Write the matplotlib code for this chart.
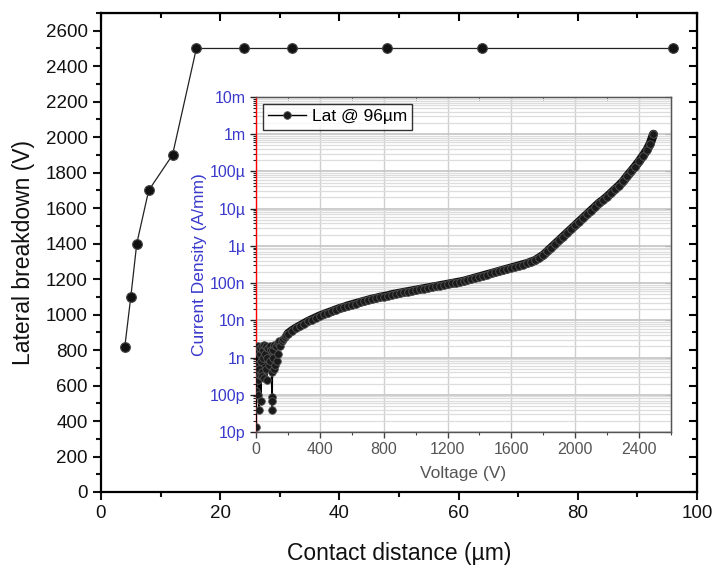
import numpy as np
import matplotlib
matplotlib.use("Agg")
import matplotlib.pyplot as plt
from matplotlib.ticker import MultipleLocator, LogLocator, FixedLocator, NullFormatter
from matplotlib.lines import Line2D

plt.rcParams['font.family'] = ['Liberation Sans', 'DejaVu Sans']

# ---- main data: lateral breakdown vs contact distance ----
contact_um = [4, 5, 6, 8, 12, 16, 24, 32, 48, 64, 96]
breakdown_v = [820, 1100, 1400, 1700, 1900, 2500, 2500, 2500, 2500, 2500, 2500]

# ---- inset data: I-V of Lat @ 96um (log10 of A/mm) ----
low_v = [2, 3, 5, 8, 10, 12, 15, 18, 20, 22, 25, 28, 30, 32, 35, 38, 40, 42, 45,
         48, 50, 55, 60, 65, 67, 70, 75, 80, 85, 90, 95, 100, 101, 102, 103, 105,
         108, 110, 115, 120, 125, 130, 135, 140, 145, 150, 160, 170, 180, 190]
low_logj = [-10.87, -9.9, -9.2, -8.8, -9.6, -8.7, -10.0, -9.3, -10.4, -8.9, -9.46,
            -8.75, -10.18, -9.1, -8.7, -9.4, -9.5, -8.8, -9.0, -8.65, -9.55, -8.9,
            -9.3, -8.7, -9.6, -9.0, -8.75, -9.2, -8.7, -9.1, -8.8, -10.4, -10.05,
            -10.18, -9.4, -9.0, -8.8, -9.3, -8.65, -9.2, -8.7, -9.1, -8.6, -8.9,
            -8.55, -8.7, -8.55, -8.5, -8.45, -8.4]
main_v = [200, 225, 250, 275, 300, 325, 350, 375, 400, 425, 450, 475, 500, 525,
          550, 575, 600, 625, 650, 675, 700, 725, 750, 775, 800, 825, 850, 875,
          900, 925, 950, 975, 1000, 1025, 1050, 1075, 1100, 1125, 1150, 1175,
          1200, 1225, 1250, 1275, 1300, 1325, 1350, 1375, 1400, 1425, 1450, 1475,
          1500, 1525, 1550, 1575, 1600, 1625, 1650, 1675, 1700, 1725, 1750, 1775,
          1800, 1825, 1850, 1875, 1900, 1925, 1950, 1975, 2000, 2025, 2050, 2075,
          2100, 2125, 2150, 2175, 2200, 2225, 2250, 2275, 2300, 2325, 2350, 2375,
          2400, 2425, 2450, 2470, 2490]
main_logj = [-8.36, -8.28, -8.21, -8.15, -8.09, -8.03, -7.98, -7.93, -7.88, -7.84,
             -7.80, -7.76, -7.72, -7.68, -7.65, -7.61, -7.58, -7.55, -7.52, -7.49,
             -7.46, -7.43, -7.41, -7.38, -7.36, -7.34, -7.31, -7.29, -7.27, -7.25,
             -7.23, -7.21, -7.19, -7.17, -7.15, -7.13, -7.11, -7.09, -7.07, -7.05,
             -7.03, -7.01, -6.99, -6.97, -6.95, -6.92, -6.89, -6.86, -6.83, -6.80,
             -6.77, -6.74, -6.71, -6.68, -6.65, -6.62, -6.59, -6.56, -6.53, -6.50,
             -6.47, -6.43, -6.39, -6.32, -6.25, -6.15, -6.05, -5.95, -5.85, -5.75,
             -5.65, -5.55, -5.45, -5.35, -5.25, -5.15, -5.05, -4.95, -4.85, -4.77,
             -4.68, -4.58, -4.48, -4.38, -4.27, -4.13, -4.00, -3.87, -3.73, -3.58,
             -3.42, -3.25, -3.00]

inset_yticks = [1e-11, 1e-10, 1e-9, 1e-8, 1e-7, 1e-6, 1e-5, 1e-4, 1e-3, 1e-2]
inset_ylabels = ['10p', '100p', '1n', '10n', '100n', '1µ', '10µ', '100µ', '1m', '10m']
inset_xticks = [0, 400, 800, 1200, 1600, 2000, 2400]

fig = plt.figure(figsize=(7.16, 5.67), dpi=100)

# ---------------- main axes ----------------
ax = fig.add_axes([101/716, 1 - 492/567, (697-101)/716, (492-13)/567])
ax.plot(contact_um, breakdown_v, color='#222222', lw=0.9, marker='o', ms=7,
        mfc='#111111', mec='#444444', mew=0.8, zorder=3)
ax.set_xlim(0, 100)
ax.set_ylim(0, 2700)
ax.xaxis.set_major_locator(MultipleLocator(20))
ax.xaxis.set_minor_locator(MultipleLocator(10))
ax.yaxis.set_major_locator(MultipleLocator(200))
ax.yaxis.set_minor_locator(MultipleLocator(100))
ax.tick_params(which='both', direction='out', width=1.5, labelsize=13.5,
               colors='#111111')
ax.tick_params(which='major', length=6)
ax.tick_params(which='minor', length=3.5)
for s in ax.spines.values():
    s.set_linewidth(1.6)
axt = ax.secondary_xaxis('top')
axt.xaxis.set_major_locator(MultipleLocator(20))
axt.xaxis.set_minor_locator(MultipleLocator(10))
axt.tick_params(which='both', direction='in', width=1.5, labeltop=False)
axt.tick_params(which='major', length=6)
axt.tick_params(which='minor', length=3.5)
axt.set_xticklabels([])
axr = ax.secondary_yaxis('right')
axr.yaxis.set_major_locator(MultipleLocator(200))
axr.yaxis.set_minor_locator(MultipleLocator(100))
axr.tick_params(which='both', direction='in', width=1.5)
axr.tick_params(which='major', length=6)
axr.tick_params(which='minor', length=3.5)
axr.set_yticklabels([])
ax.set_xlabel('Contact distance (µm)', fontsize=16.5, labelpad=14, color='#111111')
ax.set_ylabel('Lateral breakdown (V)', fontsize=16.5, labelpad=8, color='#111111')

# ---------------- inset ----------------
ins = fig.add_axes([256/716, 1 - 432/567, (671-256)/716, (432-97)/567])
ins.set_facecolor('white')
V = low_v + main_v
J = [10**v for v in (low_logj + main_logj)]
ins.set_yscale('log')
# dense band of the measured curve
ins.plot(main_v, [10**v for v in main_logj], color='#111111', lw=6.5,
         solid_capstyle='round', zorder=2.5)
ins.plot(V, J, color='black', lw=1.0, marker='o', ms=5.5, mfc='#1a1a1a',
         mec='#555555', mew=0.6, zorder=3)
ins.set_xlim(0, 2600)
ins.set_ylim(1e-11, 1e-2)
ins.xaxis.set_major_locator(FixedLocator(inset_xticks))
ins.xaxis.set_minor_locator(MultipleLocator(200))
ins.yaxis.set_major_locator(FixedLocator(inset_yticks))
ins.set_yticklabels(inset_ylabels)
ins.yaxis.set_minor_locator(LogLocator(base=10, subs=np.arange(2, 10), numticks=20))
ins.yaxis.set_minor_formatter(NullFormatter())
ins.grid(True, which='major', axis='x', color='#cfcfcf', lw=1.0)
ins.grid(True, which='major', axis='y', color='#c8c8c8', lw=1.3)
ins.grid(True, which='minor', axis='y', color='#dddddd', lw=0.9)
ins.set_axisbelow(True)
ins.tick_params(axis='y', which='both', direction='out', colors='#222222',
                labelcolor='#3a3acc', labelsize=11.5)
ins.tick_params(axis='x', which='both', direction='out', colors='#444444',
                labelcolor='#555555', labelsize=11.5)
ins.tick_params(which='major', length=4, width=1)
ins.tick_params(which='minor', length=2, width=0.8)
ins.spines['left'].set_color('red')
ins.spines['left'].set_linewidth(1.0)
for k in ['top', 'right', 'bottom']:
    ins.spines[k].set_color('#555555')
    ins.spines[k].set_linewidth(1.0)
it = ins.secondary_xaxis('top')
it.xaxis.set_major_locator(FixedLocator(inset_xticks))
it.xaxis.set_minor_locator(MultipleLocator(200))
it.tick_params(which='both', direction='in', colors='#555555')
it.tick_params(which='major', length=4)
it.tick_params(which='minor', length=2)
it.set_xticklabels([])
ir = ins.secondary_yaxis('right')
ir.yaxis.set_major_locator(FixedLocator(inset_yticks))
ir.yaxis.set_minor_locator(LogLocator(base=10, subs=np.arange(2, 10), numticks=20))
ir.yaxis.set_minor_formatter(NullFormatter())
ir.tick_params(which='both', direction='in', colors='#222222')
ir.tick_params(which='major', length=4)
ir.tick_params(which='minor', length=2)
ir.set_yticklabels([])
ins.set_xlabel('Voltage (V)', fontsize=12.5, color='#555555', labelpad=6)
ins.set_ylabel('Current Density (A/mm)', fontsize=12.5, color='#3a3acc', labelpad=2)
handle = Line2D([], [], color='black', lw=1.0, marker='o', ms=5.5, mfc='#1a1a1a',
                mec='#555555', mew=0.6)
leg = ins.legend([handle], ['Lat @ 96µm'], loc='upper left', fontsize=12.5,
                 frameon=True, fancybox=False, edgecolor='black', handlelength=2.2,
                 borderpad=0.3, handletextpad=0.3, borderaxespad=0.4)
leg.get_frame().set_linewidth(1.0)

fig.savefig('out.png', dpi=100)
